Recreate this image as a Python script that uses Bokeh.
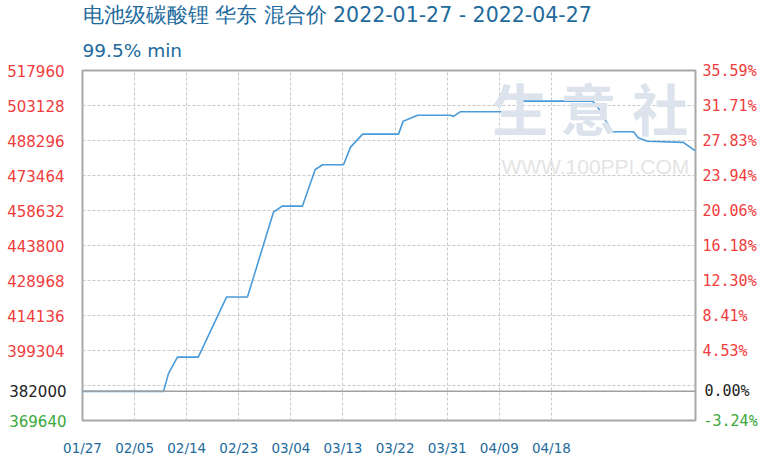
from bokeh.plotting import figure
from bokeh.models import FixedTicker, Range1d, LinearAxis, Label, Span, Title
from bokeh.embed import file_html
from bokeh.resources import INLINE

# ---- data ----
title_text = "电池级碳酸锂 华东 混合价 2022-01-27 - 2022-04-27"
subtitle_text = "99.5% min"

x_tick_idx = [0, 9, 18, 27, 36, 45, 54, 63, 72, 81]
x_tick_labels = ["01/27", "02/05", "02/14", "02/23", "03/04",
                 "03/13", "03/22", "03/31", "04/09", "04/18"]
x_end = 105.9

# breakpoints of the price line (sample index, price in CNY/t)
idx = [0, 14.0, 14.85, 16.4, 20.0, 24.9, 28.5, 33.0, 34.5, 38.0, 40.2, 41.5,
       45.1, 46.3, 48.4, 54.6, 55.4, 57.9, 63.6, 64.1, 65.3, 75.0, 76.0,
       88.1, 88.9, 91.5, 95.2, 96.0, 97.6, 103.8, 105.5, 105.9]
price = [382000, 382000, 389500, 396500, 396500, 422000, 422000, 458000,
         460500, 460500, 476000, 478000, 478000, 485500, 491000, 491000,
         496500, 499000, 499000, 498500, 500500, 500500, 505000, 505000,
         503000, 492000, 492000, 489500, 488000, 487500, 484500, 484000]

base_price = 382000
y_min, y_max = 369640, 517960
y_grid_values = [517960, 503128, 488296, 473464, 458632, 443800,
                 428968, 414136, 399304, 384472, 369640]
y_label_values = [517960, 503128, 488296, 473464, 458632, 443800,
                  428968, 414136, 399304]

# ---- styles ----
RED = "#f03c3c"
GREEN = "#3aa83a"
BLACK = "#222222"
BLUE_TXT = "#226a9c"
LINE = "#4a9bd9"
GRID = "#c8c8c8"

p = figure(width=772, height=470, x_range=Range1d(0, x_end),
           y_range=Range1d(y_min, y_max), output_backend="svg",
           toolbar_location=None, min_border_left=82, min_border_right=77,
           min_border_top=60, min_border_bottom=50, y_axis_location=None,
           x_axis_location=None)
p.background_fill_color = "white"
p.border_fill_color = "white"
p.outline_line_color = "#a8a8a8"
p.outline_line_width = 2

# titles
sub = Title(text=subtitle_text, align="left", text_font="DejaVu Sans",
            text_font_size="18.5px", text_font_style="normal",
            text_color=BLUE_TXT, standoff=20)
p.add_layout(sub, "above")
main = Title(text=title_text, align="left", text_font="DejaVu Sans",
             text_font_size="20.5px", text_font_style="normal",
             text_color=BLUE_TXT, standoff=1)
p.add_layout(main, "above")

# watermark
for ch, cx in zip(["生", "意", "社"], [75.6, 87.4, 99.8]):
    p.add_layout(Label(x=cx, y=502600, text=ch, text_align="center",
                       text_baseline="middle", text_font="Noto Sans CJK SC",
                       text_font_size="56px", text_font_style="bold",
                       text_color="#dce3ec"))
p.add_layout(Label(x=88.6, y=477300, text="WWW.100PPI.COM", text_align="center",
                   text_baseline="middle", text_font="Liberation Sans",
                   text_font_size="21px", text_color="#e4e4e4"))


def plain_axis(ticks, overrides, color, font, size, standoff):
    ax = LinearAxis(ticker=FixedTicker(ticks=ticks), major_label_overrides=overrides)
    ax.axis_line_color = None
    ax.major_tick_line_color = None
    ax.minor_tick_line_color = None
    ax.major_tick_out = 0
    ax.major_tick_in = 0
    ax.minor_tick_out = 0
    ax.minor_tick_in = 0
    ax.major_label_standoff = standoff
    ax.major_label_text_color = color
    ax.major_label_text_font = font
    ax.major_label_text_font_size = size
    return ax


def pct(v):
    return f"{(v / base_price - 1) * 100:.2f}%"


# x axis
p.add_layout(plain_axis(x_tick_idx, {i: l for i, l in zip(x_tick_idx, x_tick_labels)},
                        BLUE_TXT, "DejaVu Sans", "13.5px", 19), "below")

# left axes: red regular ticks, then minimum (green) and base (black) stacked
# with a negative standoff so that they line up with the red labels
LFONT, LSIZE, LW = "DejaVu Sans", "15px", 62
p.add_layout(plain_axis(y_label_values, {v: str(v) for v in y_label_values},
                        RED, LFONT, LSIZE, 18), "left")
p.add_layout(plain_axis([y_min], {y_min: str(y_min)}, GREEN, LFONT, LSIZE, -LW), "left")
p.add_layout(plain_axis([base_price], {base_price: str(base_price)}, BLACK,
                        LFONT, LSIZE, -LW), "left")

# right axes: percent change vs base price
RFONT, RSIZE, RW = "DejaVu Sans Mono", "15px", 56
p.add_layout(plain_axis(y_label_values, {v: pct(v) for v in y_label_values},
                        RED, RFONT, RSIZE, 7), "right")
p.add_layout(plain_axis([y_min], {y_min: pct(y_min)}, GREEN, RFONT, RSIZE, -RW), "right")
p.add_layout(plain_axis([base_price], {base_price: pct(base_price)}, BLACK,
                        RFONT, RSIZE, -RW), "right")

# grids
p.xgrid.ticker = FixedTicker(ticks=x_tick_idx)
p.ygrid.ticker = FixedTicker(ticks=y_grid_values)
for g in (p.xgrid, p.ygrid):
    g.grid_line_color = GRID
    g.grid_line_dash = "3 2"
    g.grid_line_width = 1

# base line
p.add_layout(Span(location=base_price, dimension="width",
                  line_color="#a0a0a0", line_width=1.5))

p.line(idx, price, line_color=LINE, line_width=1.6)

open("out.html", "w").write(file_html(p, INLINE))
